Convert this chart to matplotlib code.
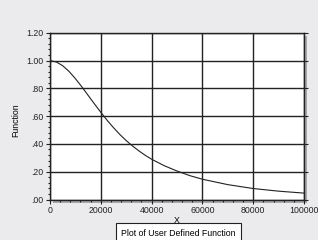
import matplotlib
matplotlib.use("Agg")
import matplotlib.pyplot as plt
from matplotlib.patches import Rectangle
from matplotlib.ticker import MultipleLocator

x_vals = [0, 2500, 5000, 7500, 10000, 12500, 15000, 17500, 20000, 22500, 25000, 27500,
          30000, 32500, 35000, 37500, 40000, 45000, 50000, 55000, 60000, 70000, 80000,
          90000, 100000]
y_vals = [1.00, 0.99, 0.963, 0.922, 0.870, 0.812, 0.750, 0.688, 0.628, 0.570, 0.517, 0.468,
          0.424, 0.385, 0.350, 0.318, 0.290, 0.243, 0.205, 0.172, 0.146, 0.107, 0.079,
          0.060, 0.046]
x_ticks = [0, 20000, 40000, 60000, 80000, 100000]
y_ticks = [0.0, 0.2, 0.4, 0.6, 0.8, 1.0, 1.2]
y_tick_labels = [".00", ".20", ".40", ".60", ".80", "1.00", "1.20"]

plt.rcParams['font.family'] = ['Liberation Sans', 'DejaVu Sans']

fig = plt.figure(figsize=(3.18, 2.40), dpi=100)
fig.patch.set_facecolor('#ebebed')
W, H = 318, 240
l, r, b, t = 50 / W, 304 / W, 1 - 199.5 / H, 1 - 32.8 / H
ax = fig.add_axes([l, b, r - l, t - b])
ax.set_zorder(2)

# drop shadow
fig.patches.append(Rectangle((l + 3 / W, b - 3 / H), r - l, t - b, transform=fig.transFigure,
                             facecolor='#a8a8a8', edgecolor='none', zorder=1))

ax.set_facecolor('white')
ax.plot(x_vals, y_vals, color='#222222', lw=0.8)
ax.set_xlim(0, 100000)
ax.set_ylim(0, 1.2)
ax.set_xticks(x_ticks)
ax.set_xticklabels([str(v) for v in x_ticks])
ax.set_yticks(y_ticks)
ax.set_yticklabels(y_tick_labels)
ax.xaxis.set_minor_locator(MultipleLocator(4000))
ax.yaxis.set_minor_locator(MultipleLocator(0.04))
ax.grid(True, which='major', color='#222222', lw=1.0)
ax.tick_params(which='major', direction='out', length=3, width=0.8, labelsize=6.3, pad=1.5,
               right=True, colors='#222222')
ax.tick_params(which='minor', direction='out', length=1.5, width=0.8, colors='#222222', right=False)
for s in ax.spines.values():
    s.set_color('#222222')
    s.set_linewidth(1.0)

ax.set_xlabel('X', fontsize=6.3, labelpad=1)
ax.set_ylabel('Function', fontsize=6.3, labelpad=2)
ax.yaxis.set_label_coords(20 / W, 0.5, transform=fig.transFigure)

fig.text(178 / W, 1 - 233 / H, 'Plot of User Defined Function', ha='center', va='center',
         fontsize=6.3, bbox=dict(boxstyle='square,pad=0.6', fc='white', ec='#222222', lw=0.8))

fig.savefig('out.png', dpi=100, facecolor=fig.get_facecolor())
